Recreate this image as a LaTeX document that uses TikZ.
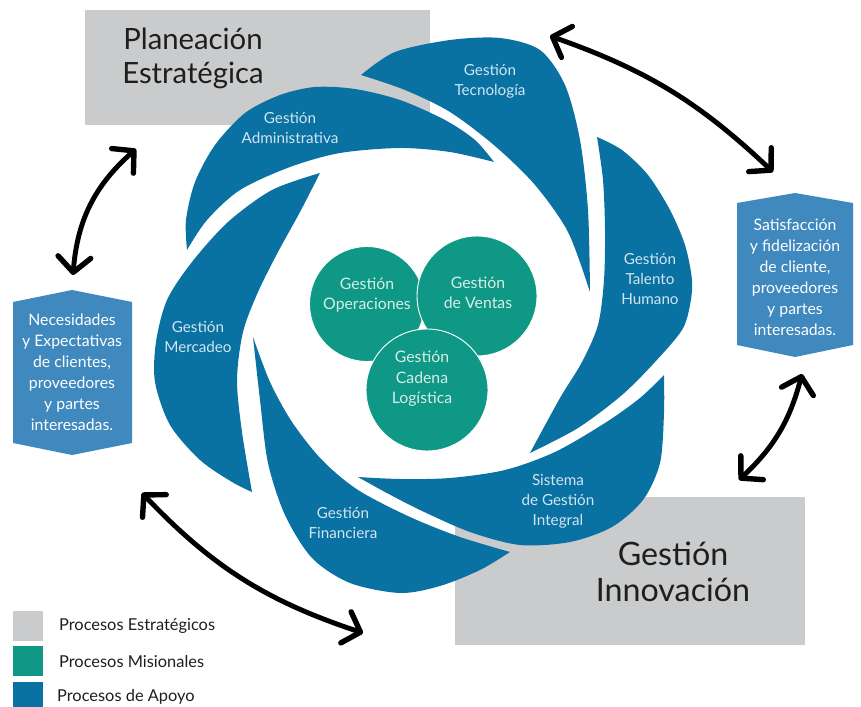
\documentclass[tikz,border=0pt]{standalone}
\usepackage{fontspec}
\setmainfont{Lato}
\usetikzlibrary{arrows.meta}

\definecolor{apoyo}{RGB}{10,113,163}
\definecolor{misional}{RGB}{14,152,133}
\definecolor{estrategico}{RGB}{202,203,204}
\definecolor{banner}{RGB}{64,137,190}
\definecolor{palido}{RGB}{208,229,240}
\definecolor{crema}{RGB}{215,238,232}
\definecolor{tinta}{RGB}{30,30,30}

\tikzset{
  hoja/.style={fill=apoyo},
  rotulo/.style={text=palido, align=center, font=\fontsize{13}{17}\selectfont},
  circulo/.style={circle, fill=misional, draw=white, line width=0.8pt, inner sep=0pt},
  enmisional/.style={text=crema, align=center, font=\fontsize{13.5}{17.5}\selectfont},
  grande/.style={text=tinta, align=center, font=\fontsize{25}{29}\selectfont},
  cartel/.style={text=white, align=center, font=\fontsize{13.5}{18}\selectfont},
  leyenda/.style={text=tinta, anchor=west, font=\fontsize{14}{16}\selectfont},
  punta/.tip={Straight Barb[length=13pt,width=28pt,line width=4.6pt,round]},
  flecha/.style={line width=4.2pt, line cap=round, punta-punta}
}

\begin{document}
\begin{tikzpicture}[x=0.03cm,y=-0.03cm]
\useasboundingbox (0,0) rectangle (861,707);

% procesos estrategicos (detras de las hojas)
\fill[estrategico] (85,10) rectangle (430,125);
\fill[estrategico] (455,497) rectangle (805,645);
\node[grande] (planeacion) at (193,58) {Planeación\\Estratégica};
\node[grande, font=\fontsize{27.5}{31}\selectfont] (innovacion) at (673,572) {Gestión\\Innovación};

% hojas de apoyo
\fill[hoja] plot[smooth] coordinates {(361,75) (395,52) (450,40) (500,38) (540,50) (565,85) (580,140) (588,210) (590,292)}
  -- plot[smooth] coordinates {(590,292) (568,232) (535,185) (495,146) (450,112) (405,90) (361,75)} -- cycle;
\fill[hoja] plot[smooth] coordinates {(187,250) (186,220) (195,182) (215,145) (245,113) (280,95) (315,87) (355,89) (400,100) (445,120) (475,140) (494,162)}
  -- plot[smooth] coordinates {(494,162) (450,152) (400,148) (340,153) (290,167) (240,190) (207,220) (187,250)} -- cycle;
\fill[hoja] plot[smooth] coordinates {(252,492) (232,482) (200,460) (170,425) (155,382) (156,342) (167,300) (192,262) (228,222) (272,190) (320,173)}
  -- plot[smooth] coordinates {(320,173) (300,212) (278,252) (258,292) (243,332) (237,380) (242,432) (252,492)} -- cycle;
\fill[hoja] plot[smooth] coordinates {(510,552) (480,570) (440,586) (400,593) (350,583) (312,558) (285,515) (268,463) (260,400) (253,337)}
  -- plot[smooth] coordinates {(253,337) (270,382) (292,422) (322,460) (358,490) (410,517) (460,537) (510,552)} -- cycle;
\fill[hoja] plot[smooth] coordinates {(664,375) (664,413) (660,463) (643,500) (612,527) (570,542) (520,545) (470,532) (420,510) (385,492) (358,477)}
  -- plot[smooth] coordinates {(358,477) (400,479) (450,478) (505,470) (555,452) (605,423) (640,398) (664,375)} -- cycle;
\fill[hoja] plot[smooth] coordinates {(597,137) (622,150) (648,175) (670,210) (685,245) (692,280) (690,305) (682,330) (655,362) (622,395) (578,428) (530,453)}
  -- plot[smooth] coordinates {(530,453) (560,398) (582,362) (598,325) (604,280) (605,230) (603,180) (597,137)} -- cycle;

\node[rotulo] (tecnologia) at (490,81) {Gestión\\Tecnología};
\node[rotulo] (administrativa) at (290,128) {Gestión\\Administrativa};
\node[rotulo] (talento) at (650,279) {Gestión\\Talento\\Humano};
\node[rotulo] (mercadeo) at (198,337) {Gestión\\Mercadeo};
\node[rotulo] (financiera) at (343,523) {Gestión\\Financiera};
\node[rotulo] (sistema) at (558,501) {Sistema\\de Gestión\\Integral};

% procesos misionales
\node[circulo, minimum size=3.45cm] (operaciones) at (367,304) {};
\node[circulo, minimum size=3.6cm] (ventas) at (477,296) {};
\node[circulo, minimum size=3.66cm] (cadena) at (427,390) {};
\node[enmisional] (operacionesTxt) at (367,295) {Gestión\\Operaciones};
\node[enmisional] (ventasTxt) at (478,293) {Gestión\\de Ventas};
\node[enmisional] (cadenaTxt) at (422,379) {Gestión\\Cadena\\Logística};

% carteles
\fill[banner] (13,302) -- (72,290) -- (132,302) -- (132,443) -- (72,455) -- (13,443) -- cycle;
\node[cartel] (necesidades) at (72,372) {Necesidades\\y Expectativas\\de clientes,\\proveedores\\y partes\\interesadas.};
\fill[banner] (737,203) -- (795,193) -- (853,203) -- (853,345) -- (795,357) -- (737,345) -- cycle;
\node[cartel] (satisfaccion) at (795,277) {Satisfacción\\y fidelización\\de cliente,\\proveedores\\y partes\\interesadas.};

% flechas
\coordinate (a1) at (550,36);
\coordinate (a2) at (773,172);
\coordinate (b1) at (73,275);
\coordinate (b2) at (136,149);
\coordinate (c1) at (142,493);
\coordinate (c2) at (363,633);
\coordinate (d1) at (802,374);
\coordinate (d2) at (739,480);
\draw[flecha] (a1) to[bend left=12] (a2);
\draw[flecha] (b1) to[bend left=22] (b2);
\draw[flecha] (c1) to[bend right=14] (c2);
\draw[flecha] (d1) to[bend left=16] (d2);

% leyenda
\fill[estrategico] (13,611) rectangle (43,641);
\fill[misional] (13,646) rectangle (43,676);
\fill[apoyo] (13,682) rectangle (43,712);
\node[leyenda] (ley1) at (55,626) {Procesos Estratégicos};
\node[leyenda] (ley2) at (55,662) {Procesos Misionales};
\node[leyenda] (ley3) at (53,697) {Procesos de Apoyo};
\end{tikzpicture}
\end{document}
